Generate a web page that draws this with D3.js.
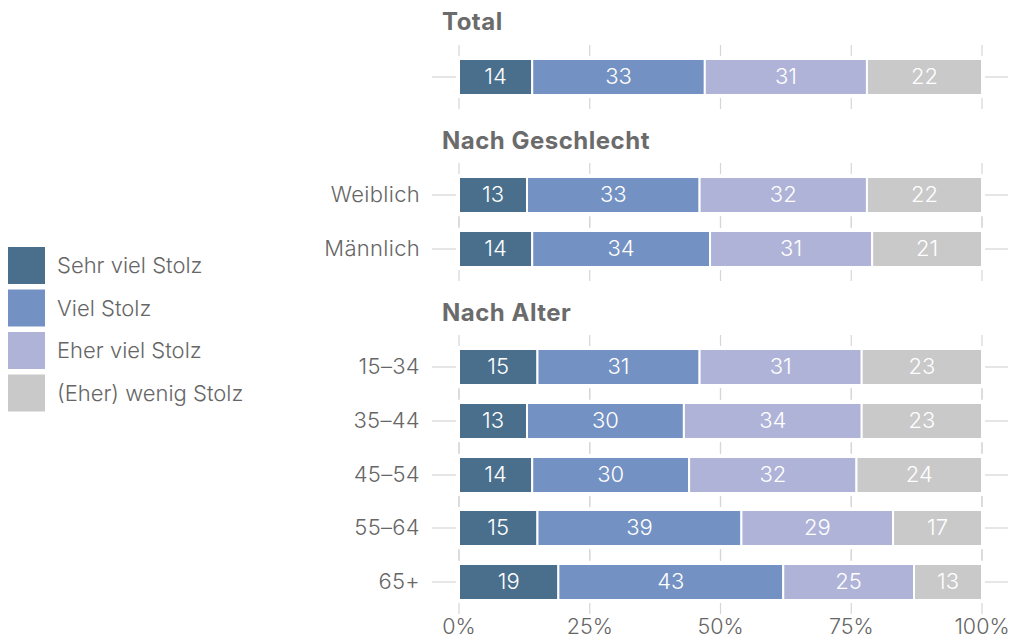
<!DOCTYPE html>
<html>
<head>
<meta charset="utf-8">
<script src="https://cdn.jsdelivr.net/npm/d3@7"></script>
<style>
  body { margin: 0; background: #fff; }
  svg { font-family: Inter, "Liberation Sans", sans-serif; }
</style>
</head>
<body>
<div class="chart"></div>
<script>
const seriesNames = ["Sehr viel Stolz", "Viel Stolz", "Eher viel Stolz", "(Eher) wenig Stolz"];
const seriesColors = ["#4a6f8d", "#7391c2", "#b0b3d8", "#c9c9c9"];

const groupTitles = ["Total", "Nach Geschlecht", "Nach Alter"];
const rowLabels = ["", "Weiblich", "Männlich", "15–34", "35–44", "45–54", "55–64", "65+"];

const sehrViel = [14, 13, 14, 15, 13, 14, 15, 19];
const viel = [33, 33, 34, 31, 30, 30, 39, 43];
const eherViel = [31, 32, 31, 31, 34, 32, 29, 25];
const wenig = [22, 22, 21, 23, 23, 24, 17, 13];

const xTicks = [0, 25, 50, 75, 100];

const width = 1013, height = 644;
const dimensions = {left: 459, right: 982};
const barH = 36;
// row centres: rows within a group 54px apart, groups separated by a title
const rowY = [77, 195, 249, 367, 421, 475, 528, 582];
const titleY = [22, 141, 313];

const svg = d3.select('.chart').append('svg')
    .attr('width', width)
    .attr('height', height);

const x = d3.scaleLinear()
    .domain([0, 100])
    .range([dimensions.left, dimensions.right]);

const rows = rowLabels.map((label, i) => {
    const vals = [sehrViel[i], viel[i], eherViel[i], wenig[i]];
    let acc = 0;
    const segs = vals.map((v, k) => {
        const s = {key: k, x0: acc, x1: acc + v, value: v};
        acc += v;
        return s;
    });
    return {label, y: rowY[i], segs};
});

// vertical tick segments above and below each bar
const grid = svg.append('g').attr('stroke', '#d6d6d6').attr('stroke-width', 1.2);
rows.forEach(r => {
    grid.selectAll(null)
        .data(xTicks)
        .join('g')
        .call(g => g.append('line')
            .attr('x1', d => x(d)).attr('x2', d => x(d))
            .attr('y1', r.y - barH / 2 - 14).attr('y2', r.y - barH / 2 - 3))
        .call(g => g.append('line')
            .attr('x1', d => x(d)).attr('x2', d => x(d))
            .attr('y1', r.y + barH / 2 + 3).attr('y2', r.y + barH / 2 + 14));
    grid.append('line')
        .attr('x1', 432).attr('x2', x(0) - 3)
        .attr('y1', r.y).attr('y2', r.y);
    grid.append('line')
        .attr('x1', x(100) + 3).attr('x2', 1008)
        .attr('y1', r.y).attr('y2', r.y);
});

// group titles
svg.append('g')
    .selectAll('text')
    .data(groupTitles)
    .join('text')
    .attr('x', 442)
    .attr('y', (d, i) => titleY[i])
    .attr('dy', '0.35em')
    .attr('fill', '#6b6b6b')
    .attr('font-size', 24)
    .attr('font-weight', 700)
    .attr('letter-spacing', 0.5)
    .text(d => d);

// bars
const rowG = svg.append('g')
    .selectAll('g')
    .data(rows)
    .join('g')
    .attr('transform', d => `translate(0,${d.y})`);

rowG.selectAll('rect')
    .data(d => d.segs)
    .join('rect')
    .attr('x', d => x(d.x0))
    .attr('width', d => x(d.x1) - x(d.x0))
    .attr('y', -barH / 2)
    .attr('height', barH)
    .attr('fill', d => seriesColors[d.key])
    .attr('stroke', '#fff')
    .attr('stroke-width', 2);

rowG.selectAll('text.val')
    .data(d => d.segs)
    .join('text')
    .attr('class', 'val')
    .attr('x', d => x((d.x0 + d.x1) / 2))
    .attr('y', -1)
    .attr('dy', '0.36em')
    .attr('text-anchor', 'middle')
    .attr('fill', '#fff')
    .attr('font-size', 22)
    .attr('font-weight', 300)
    .text(d => d.value);

rowG.append('text')
    .attr('x', 420)
    .attr('y', -1)
    .attr('dy', '0.36em')
    .attr('text-anchor', 'end')
    .attr('fill', '#666')
    .attr('font-size', 22)
    .attr('font-weight', 300)
    .attr('letter-spacing', 0.3)
    .text(d => d.label);

// x axis labels
svg.append('g')
    .selectAll('text')
    .data(xTicks)
    .join('text')
    .attr('x', d => x(d))
    .attr('y', 634)
    .attr('text-anchor', 'middle')
    .attr('fill', '#666')
    .attr('font-size', 21.5)
    .attr('font-weight', 300)
    .text(d => d + '%');

// legend
const legend = svg.append('g')
    .selectAll('g')
    .data(seriesNames)
    .join('g')
    .attr('transform', (d, i) => `translate(8,${247 + i * 42.5})`);

legend.append('rect')
    .attr('width', 37)
    .attr('height', 37)
    .attr('fill', (d, i) => seriesColors[i]);

legend.append('text')
    .attr('x', 49)
    .attr('y', 18.5)
    .attr('dy', '0.36em')
    .attr('fill', '#666')
    .attr('font-size', 22)
    .attr('font-weight', 300)
    .text(d => d);
</script>
</body>
</html>
